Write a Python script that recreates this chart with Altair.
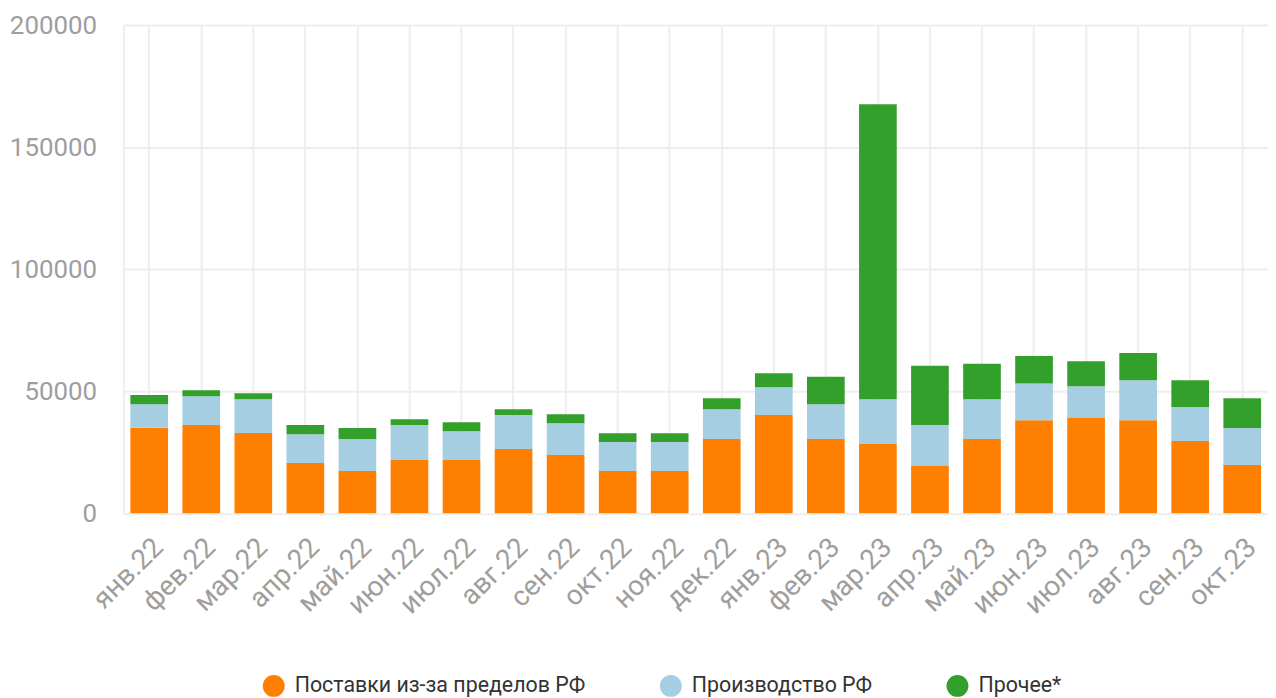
import altair as alt
import pandas as pd

months = ["янв.22", "фев.22", "мар.22", "апр.22", "май.22", "июн.22", "июл.22",
          "авг.22", "сен.22", "окт.22", "ноя.22", "дек.22", "янв.23", "фев.23",
          "мар.23", "апр.23", "май.23", "июн.23", "июл.23", "авг.23", "сен.23", "окт.23"]
series = ["Поставки из-за пределов РФ", "Производство РФ", "Прочее*"]
colors = ["#ff7f00", "#a6cee3", "#33a02c"]

imports = [35000, 36100, 32900, 20600, 17300, 21800, 21800, 26300, 23900, 17300, 17300,
           30400, 40200, 30400, 28400, 19400, 30400, 38100, 39000, 38100, 29600, 19800]
production = [9700, 11800, 13800, 11800, 13100, 14300, 11800, 13900, 13000, 11900, 11900,
              12200, 11400, 14300, 18300, 16700, 16300, 15100, 13000, 16400, 13900, 15100]
other = [3700, 2500, 2500, 3700, 4500, 2400, 3700, 2400, 3700, 3600, 3600,
         4500, 5700, 11200, 120900, 24300, 14500, 11200, 10300, 11100, 11000, 12200]
y_ticks = [0, 50000, 100000, 150000, 200000]

rows = []
for i, m in enumerate(months):
    for k, (s, vals) in enumerate(zip(series, [imports, production, other])):
        rows.append({"month": m, "series": s, "value": vals[i], "order": k})
df = pd.DataFrame(rows)

grid_color = "#eeeeee"
label_color = "#9e9e9e"

chart = alt.Chart(df).mark_bar().encode(
    x=alt.X("month:N", sort=months,
            scale=alt.Scale(paddingInner=0.276, paddingOuter=0.133),
            axis=alt.Axis(title=None, labelAngle=-45, labelFontSize=28, labelColor=label_color,
                          labelFont="Roboto", ticks=False, domain=False, grid=True,
                          gridColor=grid_color, gridWidth=2, bandPosition=0.5,
                          labelPadding=20)),
    y=alt.Y("value:Q", stack="zero",
            scale=alt.Scale(domain=[0, 200000], nice=False),
            axis=alt.Axis(title=None, values=y_ticks, format="d", labelFontSize=26,
                          labelColor=label_color, labelFont="Roboto", ticks=False,
                          domain=True, domainColor=grid_color, domainWidth=2,
                          gridColor=grid_color, gridWidth=2, labelPadding=27)),
    color=alt.Color("series:N", scale=alt.Scale(domain=series, range=colors),
                    legend=alt.Legend(title=None, orient="none", direction="horizontal",
                                      legendX=140, legendY=653, symbolType="circle",
                                      symbolSize=484, symbolStrokeWidth=0, symbolOpacity=1,
                                      labelFontSize=21.5, labelFont="Roboto", labelColor="#333333",
                                      labelOffset=10, columnPadding=74, padding=0,
                                      labelLimit=400)),
    order=alt.Order("order:Q"),
).properties(
    width=1150, height=490.5,
    autosize=alt.AutoSizeParams(type="none"),
    padding={"left": 116, "top": 15.5, "right": 0, "bottom": 184},
).configure_view(stroke=None)

chart.save("out.html", embed_options={"renderer": "svg", "actions": False})
